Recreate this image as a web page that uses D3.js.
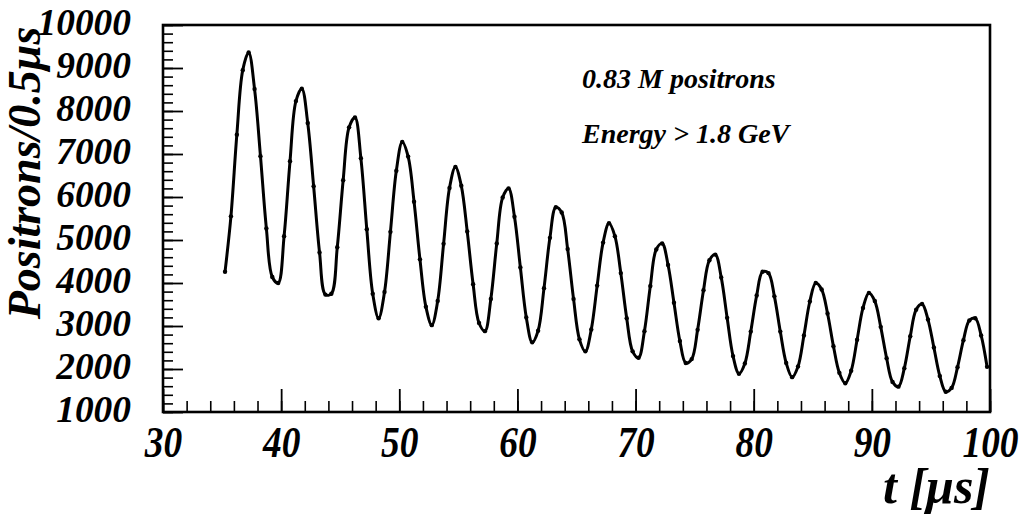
<!DOCTYPE html>
<meta charset="utf-8">

<!-- Load d3.js -->
<script src="https://d3js.org/d3.v7.min.js"></script>

<style>
  body { margin: 0; background: #fff; }
  text { font-family: "Liberation Serif", "Times New Roman", serif; font-weight: bold; font-style: italic; fill: #000; }
</style>

<!-- Create a div where the graph will take place -->
<div id="my_dataviz"></div>

<script>

// bins of 0.5 us, first bin centre at 35.25 us
var binStart = 35.25;
var binWidth = 0.5;

// positrons per bin
var counts = [
  4260, 5550, 7450, 8950, 9360, 8510, 6950, 5270, 4140, 4000,
  5090, 6830, 8230, 8520, 7720, 6250, 4710, 3730, 3750, 4830,
  6390, 7620, 7850, 6900, 5250, 3750, 3180, 3790, 5190, 6610,
  7280, 6940, 5890, 4550, 3450, 3020, 3580, 4910, 6210, 6700,
  6260, 5200, 3970, 3070, 2880, 3630, 4920, 5990, 6200, 5540,
  4360, 3200, 2620, 2890, 3880, 5050, 5760, 5640, 4790, 3630,
  2690, 2410, 2920, 3940, 4940, 5390, 5090, 4230, 3180, 2410,
  2260, 2880, 3930, 4780, 4920, 4420, 3540, 2650, 2140, 2230,
  2910, 3830, 4530, 4660, 4130, 3190, 2300, 1890, 2130, 2870,
  3710, 4260, 4230, 3690, 2870, 2140, 1810, 2060, 2780, 3570,
  4000, 3850, 3290, 2530, 1910, 1670, 1960, 2680, 3420, 3770,
  3580, 2980, 2250, 1700, 1590, 2020, 2760, 3380, 3510, 3150,
  2500, 1840, 1470, 1560, 2040, 2670, 3130, 3180, 2780, 2050
];

// tick labels
var xTicks = [30, 40, 50, 60, 70, 80, 90, 100];
var yTicks = [1000, 2000, 3000, 4000, 5000, 6000, 7000, 8000, 9000, 10000];

// text boxes
var notes = ["0.83 M positrons", "Energy > 1.8 GeV"];

// set the dimensions and margins of the graph
var margin = {top: 25, right: 37, bottom: 107, left: 163},
    width = 1027 - margin.left - margin.right,
    height = 519 - margin.top - margin.bottom;

// width given to each digit of a tick label
var digitW = 18.7;

var svg = d3.select("#my_dataviz")
  .append("svg")
    .attr("width", width + margin.left + margin.right)
    .attr("height", height + margin.top + margin.bottom)
  .append("g")
    .attr("transform", "translate(" + margin.left + "," + margin.top + ")");

var x = d3.scaleLinear().domain([30, 100]).range([0, width]);
var y = d3.scaleLinear().domain([1000, 10000]).range([height, 0]);

var data = counts.map(function(c, i) { return {t: binStart + i * binWidth, n: c}; });

function fitLabels(sel) {
  sel.attr("lengthAdjust", "spacingAndGlyphs")
     .attr("textLength", function(d) { return String(d).length * digitW; });
}

// X axis: ticks drawn inward (upwards), major every 10, minor every 2
var xAxis = svg.append("g").attr("transform", "translate(0," + height + ")");
xAxis.call(d3.axisBottom(x).tickValues(d3.range(30, 100.1, 2)).tickSizeInner(-11).tickSizeOuter(0).tickFormat(""));
xAxis.select(".domain").remove();
xAxis.selectAll(".tick line").attr("stroke-width", 1.6);
var xMajor = svg.append("g").attr("transform", "translate(0," + height + ")");
xMajor.call(d3.axisBottom(x).tickValues(xTicks).tickSizeInner(-23).tickSizeOuter(0).tickPadding(14).tickFormat(d3.format("d")));
xMajor.select(".domain").remove();
xMajor.selectAll(".tick line").attr("stroke-width", 1.8);
xMajor.selectAll(".tick text")
  .style("font-size", "44px")
  .call(fitLabels);

// Y axis: ticks drawn inward, major every 1000, minor every 200
var yAxis = svg.append("g");
yAxis.call(d3.axisLeft(y).tickValues(d3.range(1000, 10001, 200)).tickSizeInner(-10).tickSizeOuter(0).tickFormat(""));
yAxis.select(".domain").remove();
yAxis.selectAll(".tick line").attr("stroke-width", 1.6);
var yMajor = svg.append("g");
yMajor.call(d3.axisLeft(y).tickValues(yTicks).tickSizeInner(-20).tickSizeOuter(0).tickPadding(32).tickFormat(d3.format("d")));
yMajor.select(".domain").remove();
yMajor.selectAll(".tick line").attr("stroke-width", 1.8);
yMajor.selectAll(".tick text")
  .style("font-size", "38px")
  .attr("dy", "0.25em")
  .call(fitLabels);

// frame
svg.append("rect")
  .attr("width", width)
  .attr("height", height)
  .attr("fill", "none")
  .attr("stroke", "black")
  .attr("stroke-width", 2.6);

// the curve through the bins
svg.append("path")
  .datum(data)
  .attr("fill", "none")
  .attr("stroke", "black")
  .attr("stroke-width", 3)
  .attr("stroke-linejoin", "round")
  .attr("d", d3.line()
    .curve(d3.curveCatmullRom)
    .x(function(d) { return x(d.t); })
    .y(function(d) { return y(d.n); }));

// little markers on each bin
svg.selectAll("circle.pt")
  .data(data)
  .enter()
  .append("circle")
    .attr("class", "pt")
    .attr("cx", function(d) { return x(d.t); })
    .attr("cy", function(d) { return y(d.n); })
    .attr("r", 2.2)
    .attr("fill", "black");

// annotations
svg.selectAll("text.note")
  .data(notes)
  .enter()
  .append("text")
    .attr("class", "note")
    .attr("x", 419)
    .attr("y", function(d, i) { return 63 + i * 55; })
    .style("font-size", "28px")
    .text(function(d) { return d; });

// axis titles
svg.append("text")
  .attr("text-anchor", "end")
  .attr("x", width)
  .attr("y", height + 91)
  .style("font-size", "50px")
  .text("t [μs]");

svg.append("text")
  .attr("text-anchor", "middle")
  .attr("transform", "translate(-123,148) rotate(-90)")
  .style("font-size", "46px")
  .text("Positrons/0.5μs");

</script>
